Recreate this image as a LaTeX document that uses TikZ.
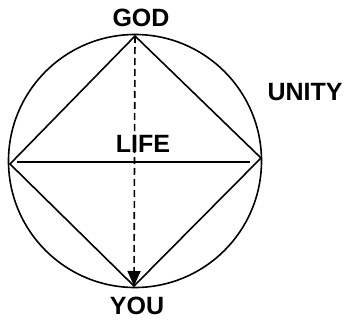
\documentclass[tikz,border=0pt]{standalone}
\usepackage{fontspec}
\setmainfont{Liberation Sans}
\usetikzlibrary{arrows.meta, positioning}

\begin{document}
\begin{tikzpicture}[
  x=1pt, y=-1pt,
  lbl/.style={font=\fontsize{25}{29}\selectfont\bfseries, inner sep=0pt},
  edge/.style={line width=1.6pt, black},
  flow/.style={line width=1.6pt, dash pattern=on 7pt off 4pt,
               -{Triangle[length=15pt, width=13pt]}}
]
\useasboundingbox (0,0) rectangle (346,321);

% circle and corners of the diamond
\draw[edge] (135,161) circle (126.5);
\coordinate (top)    at (135,36);
\coordinate (bottom) at (134,286);
\coordinate (left)   at (10,164);
\coordinate (right)  at (261,158);
\coordinate (hl)     at (17,162);
\coordinate (hr)     at (250,162);

\draw[edge, line join=miter] (top) -- (right) -- (bottom) -- (left) -- cycle;
\draw[edge] (hl) -- (hr);
\draw[flow] (top) -- (bottom);

% labels
\node[lbl] (god)   at (141,18)  {GOD};
\node[lbl] (you)   at (137,306) {YOU};
\node[lbl] (unity) at (305,92)  {UNITY};
\node[lbl] (life)  at (143,144) {LIFE};
\end{tikzpicture}
\end{document}
